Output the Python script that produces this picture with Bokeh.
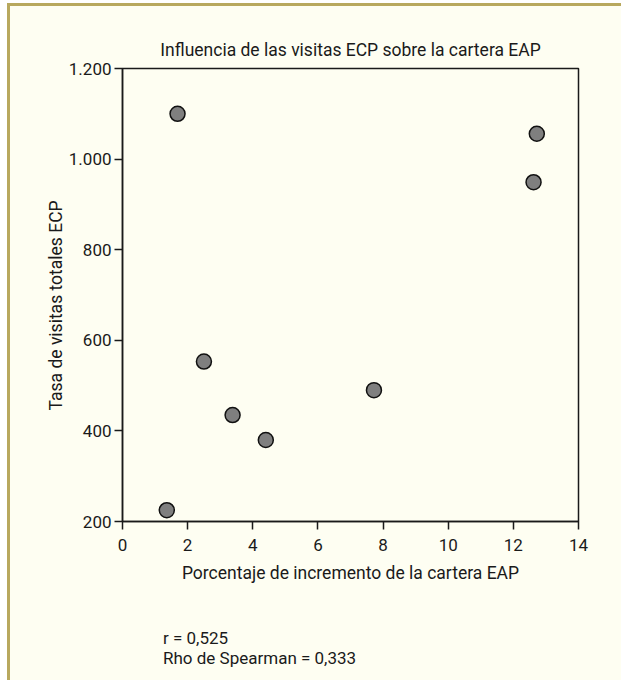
from bokeh.plotting import figure
from bokeh.models import Range1d, FixedTicker, Title, Div
from bokeh.layouts import column
from bokeh.embed import file_html
from bokeh.resources import INLINE

# ---- data ----
x_pct = [1.36, 1.69, 2.50, 3.38, 4.40, 7.72, 12.62, 12.72]
y_rate = [225, 1100, 553, 435, 380, 490, 949, 1056]
x_ticks = [0, 2, 4, 6, 8, 10, 12, 14]
y_ticks = [200, 400, 600, 800, 1000, 1200]
y_tick_labels = ["200", "400", "600", "800", "1.000", "1.200"]
title_text = "Influencia de las visitas ECP sobre la cartera EAP"
x_label = "Porcentaje de incremento de la cartera EAP"
y_label = "Tasa de visitas totales ECP"
stats_lines = ["r = 0,525", "Rho de Spearman = 0,333"]

FONT = "Roboto"
BG = "#fefef2"
BORDER = "#b8a85e"
FS = "17.5px"
FS_TICK = "17px"
TXT = "#1a1a1a"

p = figure(width=611, height=590,
           x_range=Range1d(0, 14), y_range=Range1d(200, 1200),
           output_backend="svg", toolbar_location=None,
           min_border_left=112, min_border_right=43,
           min_border_top=62, min_border_bottom=75,
           background_fill_color=BG, border_fill_color=BG,
           outline_line_color=TXT, outline_line_width=1.5)

p.title.text = title_text
p.title.align = "center"
p.title.text_font = FONT
p.title.text_font_size = FS
p.title.text_font_style = "normal"
p.title.text_color = TXT
p.title.standoff = 17

p.xgrid.visible = False
p.ygrid.visible = False

for ax in (p.xaxis[0], p.yaxis[0]):
    ax.axis_line_color = TXT
    ax.axis_line_width = 1.5
    ax.major_tick_line_color = TXT
    ax.major_tick_line_width = 1.5
    ax.major_tick_in = 0
    ax.major_tick_out = 8
    ax.minor_tick_line_color = None
    ax.major_label_text_font = FONT
    ax.major_label_text_font_size = FS_TICK
    ax.major_label_text_color = TXT
    ax.axis_label_text_font = FONT
    ax.axis_label_text_font_size = FS
    ax.axis_label_text_font_style = "normal"
    ax.axis_label_text_color = TXT

p.xaxis[0].ticker = FixedTicker(ticks=x_ticks)
p.yaxis[0].ticker = FixedTicker(ticks=y_ticks)
p.yaxis[0].major_label_overrides = {t: l for t, l in zip(y_ticks, y_tick_labels)}
p.xaxis[0].axis_label = x_label
p.xaxis[0].major_label_standoff = 9
p.yaxis[0].major_label_standoff = 3
p.xaxis[0].axis_label_standoff = 9

# vertical axis title, shifted along the axis like in the original
p.add_layout(Title(text=y_label, align="left", offset=111, standoff=0,
                   text_font=FONT, text_font_size=FS,
                   text_font_style="normal", text_color=TXT), "left")

p.scatter(x_pct, y_rate, size=15, fill_color="#7f7f7f",
          line_color="#111111", line_width=1.5)

stats = Div(text="<br>".join(stats_lines), width=611, height=80,
            styles={"font-family": FONT, "font-size": "17px",
                    "line-height": "20px", "color": TXT,
                    "padding-left": "148px", "padding-top": "27px",
                    "box-sizing": "border-box",
                    "background-color": BG})

layout = column(p, stats, spacing=0,
                styles={"border-top": "3px solid " + BORDER,
                        "border-left": "3px solid " + BORDER,
                        "background-color": BG,
                        "margin-left": "7px", "margin-top": "3px"})

open("out.html", "w").write(file_html(layout, INLINE))
